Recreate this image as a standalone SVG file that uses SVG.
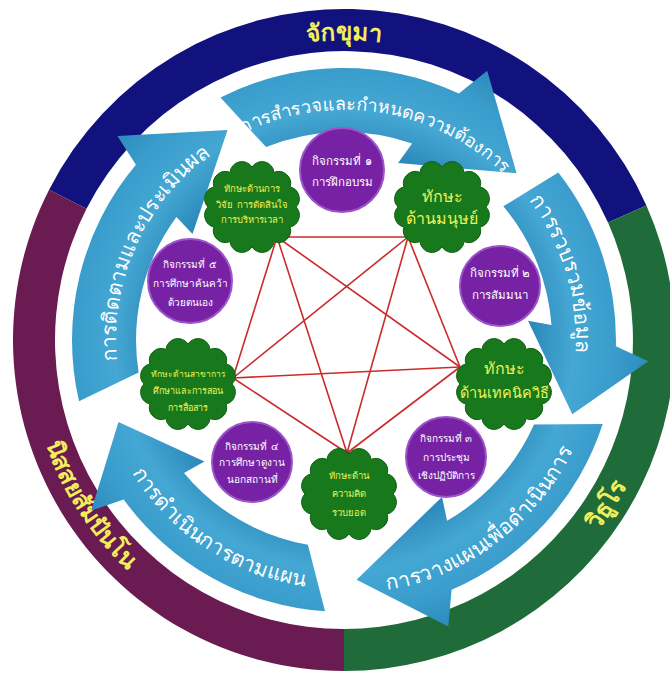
<svg xmlns="http://www.w3.org/2000/svg" width="670" height="675" viewBox="0 0 670 675">
<defs>
<style>
text{font-family:"DejaVu Sans","Noto Sans",sans-serif;}
.ring-label{fill:#f2ee5c;font-size:24px;font-weight:bold;}
.arrow-label{fill:#ffffff;font-size:21px;}
.arrow{fill:url(#arrowGrad);}
.act{fill:#7721a4;stroke:#9b55c9;stroke-width:2;}
.act-t{fill:#ffffff;font-size:10px;text-anchor:middle;}
.act-t.big{font-size:11.5px;}
.cloud{fill:#17791b;stroke:#0f5e12;stroke-width:1;}
.cloud-t{fill:#eef25a;text-anchor:middle;font-size:9.5px;}
.cloud-t.big{font-size:16px;}
.link{stroke:#cc2b2b;stroke-width:1.6;fill:none;}
</style>
<radialGradient id="arrowGrad" gradientUnits="userSpaceOnUse" cx="344" cy="340" r="310">
<stop offset="0.58" stop-color="#2784b6"/>
<stop offset="0.74" stop-color="#45a7d3"/>
<stop offset="0.88" stop-color="#3a9ccb"/>
<stop offset="1" stop-color="#2a88ba"/>
</radialGradient>
<path id="cloudShape" d="M44,0 A12,12 0 0 1 38.1,20 A12,12 0 0 1 22,34.6 A12,12 0 0 1 0,40 A12,12 0 0 1 -22,34.6 A12,12 0 0 1 -38.1,20 A12,12 0 0 1 -44,0 A12,12 0 0 1 -38.1,-20 A12,12 0 0 1 -22,-34.6 A12,12 0 0 1 0,-40 A12,12 0 0 1 22,-34.6 A12,12 0 0 1 38.1,-20 A12,12 0 0 1 44,0 Z"/>
<path id="tp1" d="M193.1,166.4 A230,230 0 0 1 541.2,221.5"/>
<path id="tp2" d="M493.1,162.3 A232,232 0 0 1 567.0,403.9"/>
<path id="tp3" d="M379.4,591.5 A254,254 0 0 0 576.0,443.3"/>
<path id="tp4" d="M104.9,413.1 A250,250 0 0 0 370.1,588.6"/>
<path id="tp5" d="M118.2,371.7 A228,228 0 0 1 219.8,148.8"/>
<path id="tpTop" d="M194,80.2 A300,300 0 0 1 494,80.2"/>
<path id="tpRight" d="M493.3,620.8 A318,318 0 0 0 661.8,351.1"/>
<path id="tpLeft" d="M28.4,356.5 A316,316 0 0 0 200.5,621.6"/>
</defs>
<rect width="670" height="675" fill="#ffffff"/>

<g id="ring">
<g id="ring-top">
<path d="M49.1,189.7 A331,331 0 0 1 646.4,205.4 L608.0,222.5 A289,289 0 0 0 86.5,208.8 Z" fill="#12127e"/>
<text class="ring-label"><textPath href="#tpTop" startOffset="50%" text-anchor="middle">จักขุมา</textPath></text>
</g>
<g id="ring-right">
<path d="M646.4,205.4 A331,331 0 0 1 344,671 L344,629 A289,289 0 0 0 608.0,222.5 Z" fill="#1f6b3a"/>
<text class="ring-label"><textPath href="#tpRight" startOffset="50%" text-anchor="middle">วิธูโร</textPath></text>
</g>
<g id="ring-left">
<path d="M344,671 A331,331 0 0 1 49.1,189.7 L86.5,208.8 A289,289 0 0 0 344,629 Z" fill="#6a1b52"/>
<text class="ring-label"><textPath href="#tpLeft" startOffset="50%" text-anchor="middle">นิสสยสัมปันโน</textPath></text>
</g>
</g>

<g id="arrow1">
<path class="arrow" d="M220.5,97.6 A272,272 0 0 1 458.9,93.5 L487.2,70.7 L516.6,173.3 L398.1,163.1 L412.1,143.4 A208,208 0 0 0 266.1,147.1 Z"/>
<text class="arrow-label" style="font-size:18px"><textPath href="#tp1" startOffset="50%" text-anchor="middle">การสำรวจและกำหนดความต้องการ</textPath></text>
</g>
<g id="arrow2">
<path class="arrow" d="M558.3,172.5 A272,272 0 0 1 615.9,346.2 L648.3,361.3 L572.3,414.2 L528.0,320.7 L551.5,325.1 A208,208 0 0 0 503.3,206.3 Z"/>
<text class="arrow-label"><textPath href="#tp2" startOffset="50%" text-anchor="middle">การรวบรวมข้อมูล</textPath></text>
</g>
<g id="arrow3">
<path class="arrow" d="M602.7,424.1 A272,272 0 0 1 451.6,589.8 L448.3,626.6 L356.6,579.7 L442.0,496.9 L447.1,520.7 A208,208 0 0 0 534.0,424.6 Z"/>
<text class="arrow-label"><textPath href="#tp3" startOffset="50%" text-anchor="middle">การวางแผนเพื่อดำเนินการ</textPath></text>
</g>
<g id="arrow4">
<path class="arrow" d="M325.0,611.3 A272,272 0 0 1 123.7,499.5 L91.2,510.6 L118.5,422.1 L204.4,461.4 L184.0,472.9 A208,208 0 0 0 307.9,544.8 Z"/>
<text class="arrow-label"><textPath href="#tp4" startOffset="50%" text-anchor="middle">การดำเนินการตามแผน</textPath></text>
</g>
<g id="arrow5">
<path class="arrow" d="M79.0,401.2 A272,272 0 0 1 135.9,164.8 L117.4,135.9 L227.6,130.1 L192.5,233.9 L176.4,216.9 A208,208 0 0 0 138.6,372.5 Z"/>
<text class="arrow-label"><textPath href="#tp5" startOffset="50%" text-anchor="middle">การติดตามและประเมินผล</textPath></text>
</g>

<g id="connectors">
<line class="link" x1="277" y1="237" x2="408" y2="237"/>
<line class="link" x1="408" y1="237" x2="460" y2="367"/>
<line class="link" x1="460" y1="367" x2="347" y2="453"/>
<line class="link" x1="347" y1="453" x2="233" y2="378"/>
<line class="link" x1="233" y1="378" x2="277" y2="237"/>
<line class="link" x1="277" y1="237" x2="460" y2="367"/>
<line class="link" x1="277" y1="237" x2="347" y2="453"/>
<line class="link" x1="408" y1="237" x2="233" y2="378"/>
<line class="link" x1="408" y1="237" x2="347" y2="453"/>
<line class="link" x1="233" y1="378" x2="460" y2="367"/>
<circle cx="347" cy="453" r="3" fill="#cc2b2b"/>
</g>

<g id="activity1">
<circle class="act" cx="342" cy="170" r="42"/>
<text class="act-t big" x="342" y="165">กิจกรรมที่ ๑</text>
<text class="act-t big" x="342" y="186">การฝึกอบรม</text>
</g>
<g id="activity2">
<circle class="act" cx="500" cy="286" r="40"/>
<text class="act-t big" x="500" y="277">กิจกรรมที่ ๒</text>
<text class="act-t big" x="500" y="299">การสัมมนา</text>
</g>
<g id="activity3">
<circle class="act" cx="446" cy="457" r="40"/>
<text class="act-t" x="446" y="442">กิจกรรมที่ ๓</text>
<text class="act-t" x="446" y="461">การประชุม</text>
<text class="act-t" x="446" y="479">เชิงปฏิบัติการ</text>
</g>
<g id="activity4">
<circle class="act" cx="252" cy="462" r="40"/>
<text class="act-t" x="252" y="450">กิจกรรมที่ ๔</text>
<text class="act-t" x="252" y="466">การศึกษาดูงาน</text>
<text class="act-t" x="252" y="483">นอกสถานที่</text>
</g>
<g id="activity5">
<circle class="act" cx="190" cy="281" r="42"/>
<text class="act-t" x="190" y="268">กิจกรรมที่ ๕</text>
<text class="act-t" x="190" y="287">การศึกษาค้นคว้า</text>
<text class="act-t" x="190" y="306">ด้วยตนเอง</text>
</g>

<g id="skill1">
<use href="#cloudShape" class="cloud" transform="translate(252,207)"/>
<text class="cloud-t" x="252" y="192">ทักษะด้านการ</text>
<text class="cloud-t" x="252" y="208">วิจัย การตัดสินใจ</text>
<text class="cloud-t" x="252" y="223">การบริหารเวลา</text>
</g>
<g id="skill2">
<use href="#cloudShape" class="cloud" transform="translate(442,207)"/>
<text class="cloud-t big" x="442" y="202">ทักษะ</text>
<text class="cloud-t big" x="442" y="224">ด้านมนุษย์</text>
</g>
<g id="skill3">
<use href="#cloudShape" class="cloud" transform="translate(504,384)"/>
<text class="cloud-t big" x="504" y="374">ทักษะ</text>
<text class="cloud-t big" x="504" y="398" style="font-size:14.5px">ด้านเทคนิควิธี</text>
</g>
<g id="skill4">
<use href="#cloudShape" class="cloud" transform="translate(349,494)"/>
<text class="cloud-t" x="349" y="479">ทักษะด้าน</text>
<text class="cloud-t" x="349" y="497">ความคิด</text>
<text class="cloud-t" x="349" y="516">รวบยอด</text>
</g>
<g id="skill5">
<use href="#cloudShape" class="cloud" transform="translate(188,384)"/>
<text class="cloud-t" x="188" y="377" style="font-size:8.5px">ทักษะด้านสาขาการ</text>
<text class="cloud-t" x="188" y="394" style="font-size:9px">ศึกษาและการสอน</text>
<text class="cloud-t" x="188" y="411" style="font-size:9px">การสื่อสาร</text>
</g>
</svg>
